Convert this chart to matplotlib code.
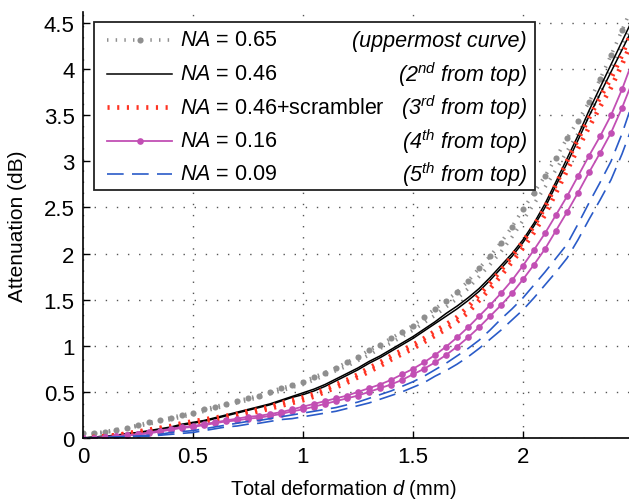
import matplotlib

matplotlib.use("Agg")
import matplotlib.pyplot as plt
from matplotlib.lines import Line2D
from matplotlib.patches import Rectangle

plt.rcParams["font.family"] = ["Liberation Sans", "DejaVu Sans"]
plt.rcParams["mathtext.fontset"] = "custom"
plt.rcParams["mathtext.rm"] = "Liberation Sans"
plt.rcParams["mathtext.it"] = "Liberation Sans:italic"

# deformation samples (mm), every 0.05
deformation = [round(0.05 * i, 2) for i in range(51)]

# two measurement runs per fibre, attenuation in dB
na065_a = [0.05, 0.05, 0.07, 0.09, 0.11, 0.14, 0.17, 0.19, 0.22, 0.25,
           0.27, 0.31, 0.34, 0.37, 0.40, 0.43, 0.46, 0.50, 0.54, 0.57,
           0.61, 0.66, 0.71, 0.76, 0.82, 0.88, 0.95, 1.01, 1.08, 1.15,
           1.22, 1.31, 1.40, 1.49, 1.58, 1.70, 1.84, 1.97, 2.12, 2.29,
           2.48, 2.66, 2.84, 3.04, 3.25, 3.44, 3.64, 3.89, 4.15, 4.42, 4.70]
na065_b = [0.04, 0.04, 0.06, 0.08, 0.10, 0.13, 0.15, 0.18, 0.20, 0.23,
           0.25, 0.29, 0.32, 0.35, 0.38, 0.41, 0.44, 0.48, 0.51, 0.55,
           0.58, 0.63, 0.68, 0.73, 0.78, 0.84, 0.90, 0.97, 1.03, 1.10,
           1.17, 1.25, 1.33, 1.42, 1.51, 1.62, 1.75, 1.88, 2.02, 2.18,
           2.36, 2.54, 2.72, 2.91, 3.11, 3.30, 3.50, 3.74, 3.98, 4.25, 4.52]
na046_a = [0.00, 0.01, 0.02, 0.03, 0.05, 0.06, 0.08, 0.10, 0.12, 0.15,
           0.17, 0.19, 0.22, 0.25, 0.28, 0.31, 0.34, 0.37, 0.41, 0.45,
           0.49, 0.53, 0.58, 0.64, 0.70, 0.76, 0.83, 0.89, 0.96, 1.03,
           1.10, 1.18, 1.26, 1.35, 1.43, 1.52, 1.62, 1.74, 1.87, 2.00,
           2.15, 2.33, 2.54, 2.78, 3.03, 3.28, 3.55, 3.80, 4.05, 4.30, 4.55]
na046_b = [0.00, 0.01, 0.02, 0.03, 0.04, 0.06, 0.07, 0.09, 0.11, 0.14,
           0.16, 0.18, 0.21, 0.24, 0.27, 0.30, 0.33, 0.36, 0.40, 0.44,
           0.47, 0.51, 0.56, 0.62, 0.68, 0.74, 0.81, 0.87, 0.94, 1.01,
           1.08, 1.16, 1.24, 1.32, 1.40, 1.49, 1.59, 1.71, 1.84, 1.97,
           2.12, 2.30, 2.50, 2.74, 2.98, 3.23, 3.49, 3.73, 3.97, 4.21, 4.45]
scr_a = [0.00, 0.01, 0.02, 0.03, 0.05, 0.07, 0.09, 0.11, 0.13, 0.16,
         0.18, 0.20, 0.22, 0.24, 0.26, 0.29, 0.31, 0.34, 0.38, 0.41,
         0.44, 0.48, 0.53, 0.58, 0.63, 0.69, 0.76, 0.82, 0.89, 0.95,
         1.01, 1.08, 1.16, 1.23, 1.31, 1.42, 1.55, 1.68, 1.82, 1.97,
         2.13, 2.30, 2.50, 2.75, 3.00, 3.24, 3.47, 3.69, 3.90, 4.15, 4.45]
scr_b = [0.00, 0.01, 0.02, 0.03, 0.04, 0.06, 0.08, 0.10, 0.12, 0.14,
         0.16, 0.18, 0.20, 0.22, 0.24, 0.26, 0.29, 0.32, 0.35, 0.38,
         0.41, 0.45, 0.50, 0.55, 0.60, 0.66, 0.72, 0.78, 0.85, 0.91,
         0.97, 1.04, 1.11, 1.18, 1.26, 1.36, 1.49, 1.62, 1.76, 1.91,
         2.06, 2.23, 2.42, 2.66, 2.90, 3.14, 3.37, 3.59, 3.80, 4.05, 4.33]
na016_a = [0.00, 0.00, 0.01, 0.02, 0.03, 0.04, 0.06, 0.08, 0.10, 0.12,
           0.13, 0.15, 0.17, 0.19, 0.21, 0.23, 0.24, 0.26, 0.28, 0.31,
           0.34, 0.37, 0.40, 0.43, 0.46, 0.50, 0.54, 0.58, 0.63, 0.69,
           0.75, 0.82, 0.90, 0.99, 1.09, 1.20, 1.32, 1.44, 1.57, 1.71,
           1.87, 2.04, 2.22, 2.42, 2.62, 2.84, 3.06, 3.27, 3.50, 3.78, 4.10]
na016_b = [0.00, 0.00, 0.01, 0.02, 0.03, 0.04, 0.05, 0.07, 0.09, 0.11,
           0.12, 0.14, 0.16, 0.18, 0.19, 0.21, 0.22, 0.24, 0.26, 0.29,
           0.31, 0.34, 0.37, 0.40, 0.43, 0.46, 0.50, 0.54, 0.58, 0.63,
           0.69, 0.75, 0.82, 0.90, 0.99, 1.09, 1.20, 1.32, 1.44, 1.57,
           1.72, 1.88, 2.05, 2.25, 2.45, 2.66, 2.88, 3.09, 3.31, 3.58, 3.88]
na009_a = [0.00, 0.00, 0.01, 0.01, 0.02, 0.02, 0.03, 0.04, 0.06, 0.07,
           0.08, 0.10, 0.12, 0.14, 0.16, 0.18, 0.19, 0.21, 0.23, 0.25,
           0.27, 0.29, 0.31, 0.33, 0.36, 0.39, 0.43, 0.47, 0.51, 0.56,
           0.61, 0.67, 0.74, 0.81, 0.89, 0.97, 1.06, 1.17, 1.29, 1.40,
           1.52, 1.66, 1.80, 1.95, 2.10, 2.32, 2.55, 2.77, 3.00, 3.30, 3.65]
na009_b = [0.00, 0.00, 0.00, 0.01, 0.01, 0.02, 0.02, 0.03, 0.04, 0.05,
           0.06, 0.08, 0.10, 0.12, 0.13, 0.15, 0.16, 0.18, 0.20, 0.21,
           0.23, 0.25, 0.27, 0.29, 0.32, 0.35, 0.38, 0.42, 0.46, 0.50,
           0.55, 0.60, 0.67, 0.73, 0.80, 0.88, 0.97, 1.07, 1.17, 1.28,
           1.39, 1.52, 1.66, 1.80, 1.95, 2.15, 2.37, 2.58, 2.80, 3.08, 3.40]

legend_left = ["$NA$ = 0.65", "$NA$ = 0.46", "$NA$ = 0.46+scrambler",
               "$NA$ = 0.16", "$NA$ = 0.09"]
legend_right = ["(uppermost curve)", "(2$^{nd}$ from top)", "(3$^{rd}$ from top)",
                "(4$^{th}$ from top)", "(5$^{th}$ from top)"]

x_ticks = [0, 0.5, 1, 1.5, 2]
x_tick_labels = ["0", "0.5", "1", "1.5", "2"]
y_ticks = [0, 0.5, 1, 1.5, 2, 2.5, 3, 3.5, 4, 4.5]
y_tick_labels = ["0", "0.5", "1", "1.5", "2", "2.5", "3", "3.5", "4", "4.5"]

GRAY = "#8f8f8f"
RED = "#ff3322"
MAGENTA = "#c24fb4"
BLUE = "#2a5bc8"

W, H = 629, 502
fig = plt.figure(figsize=(W / 100, H / 100), dpi=100)
fig.patch.set_facecolor("white")
# axes runs to x=2.5, a hair past the right edge of the picture
ax = fig.add_axes([83 / W, (H - 439) / H, 550 / W, 426 / H])
ax.set_xlim(0, 2.5)
ax.set_ylim(0, 4.62)

styles = [
    dict(color=GRAY, linestyle=(0, (0.4, 2.0)), linewidth=2.6,
         dash_capstyle="butt", marker="o", markersize=4.4, markeredgewidth=0),
    dict(color="black", linestyle="-", linewidth=1.1),
    dict(color=RED, linestyle=(0, (0.45, 1.6)), linewidth=3.4, dash_capstyle="butt"),
    dict(color=MAGENTA, linestyle="-", linewidth=1.3, marker="o", markersize=4.8,
         markeredgewidth=0),
    dict(color=BLUE, linestyle=(0, (10, 5)), linewidth=1.2),
]
gray_b_style = dict(color=GRAY, linestyle=(0, (0.4, 2.0)), linewidth=2.6,
                    dash_capstyle="butt")

ax.plot(deformation, na065_a, **styles[0])
ax.plot(deformation, na065_b, **gray_b_style)
ax.plot(deformation, na046_a, **styles[1])
ax.plot(deformation, na046_b, **styles[1])
ax.plot(deformation, scr_a, **styles[2])
ax.plot(deformation, scr_b, **styles[2])
ax.plot(deformation, na016_a, **styles[3])
ax.plot(deformation, na016_b, **styles[3])
ax.plot(deformation, na009_a, **styles[4])
ax.plot(deformation, na009_b, **styles[4])

ax.set_xticks(x_ticks)
ax.set_xticklabels(x_tick_labels)
ax.set_yticks(y_ticks)
ax.set_yticklabels(y_tick_labels)
ax.tick_params(direction="in", length=5, width=1, labelsize=16, pad=6, colors="black")
ax.grid(True, color="#555555", linestyle=(0, (1, 7)), linewidth=1.0)
ax.spines["top"].set_visible(False)
ax.spines["right"].set_visible(False)
for side in ("left", "bottom"):
    ax.spines[side].set_linewidth(1.2)

ax.set_ylabel("Attenuation (dB)", fontsize=15, labelpad=12)
fig.text(343 / W, 1 - 490 / H, "Total deformation $d$ (mm)", fontsize=14.5,
         ha="center", va="center")

# hand-built legend box so the right-hand notes can sit flush right
px = lambda x, y: (x / W, 1 - y / H)
box_x0, box_y0 = px(94, 191)
box_x1, box_y1 = px(535, 23)
fig.patches.append(Rectangle((box_x0, box_y0), box_x1 - box_x0, box_y1 - box_y0,
                             transform=fig.transFigure, facecolor="white",
                             edgecolor="#222222", linewidth=1.3, zorder=5))
row_y = [41, 75, 108, 142, 175]
for i, y in enumerate(row_y):
    sx0, sy = px(107, y)
    sx1, _ = px(172, y)
    line = Line2D([sx0, (sx0 + sx1) / 2, sx1], [sy, sy, sy],
                  transform=fig.transFigure, zorder=6, **styles[i])
    if "marker" in styles[i]:
        line.set_markevery([1])
    fig.lines.append(line)
    tx, ty = px(180, y)
    fig.text(tx, ty, legend_left[i], fontsize=15.5, ha="left", va="center", zorder=7)
    rx, _ = px(527, y)
    fig.text(rx, ty, legend_right[i], fontsize=15.5, style="italic",
             ha="right", va="center", zorder=7)

fig.savefig("out.png", dpi=100, facecolor="white")
